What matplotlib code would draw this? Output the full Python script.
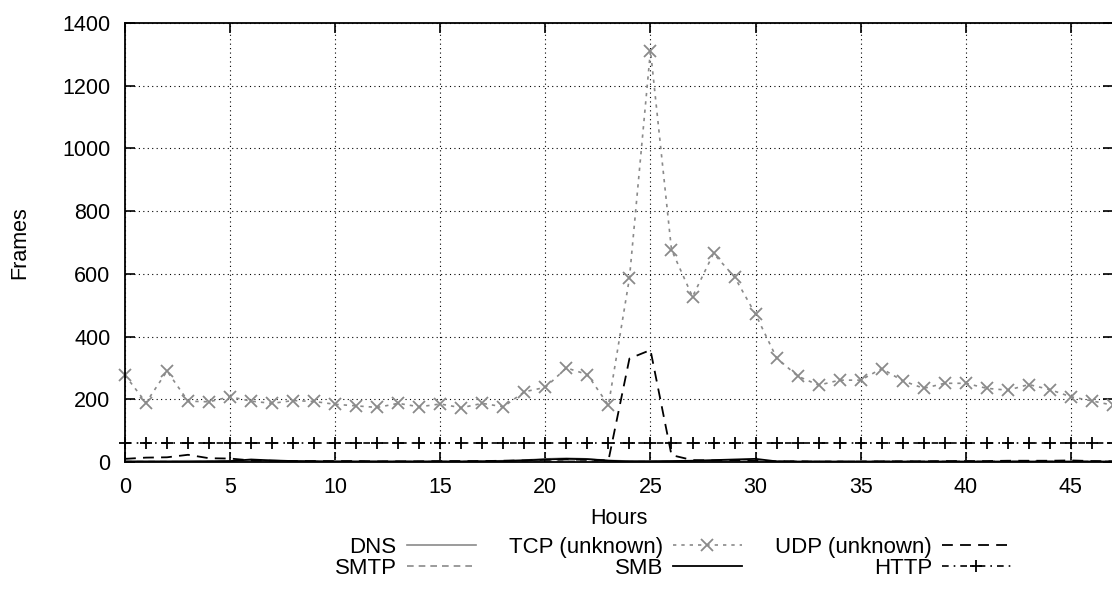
import numpy as np
import matplotlib
matplotlib.use("Agg")
import matplotlib.pyplot as plt

plt.rcParams['font.family'] = ['Liberation Sans', 'DejaVu Sans']

# hourly frame counts, hours 0..47
hours = list(range(48))

dns = [3, 3, 3, 4, 3, 3, 4, 4, 3, 3, 3, 3, 3, 3, 3, 3, 3, 3, 4, 6,
       10, 12, 10, 5, 3, 3, 3, 3, 3, 3, 3, 2, 2, 2, 2, 2, 2, 2, 2, 2,
       2, 2, 2, 2, 2, 2, 2, 2]
smtp = [2, 2, 2, 2, 2, 2, 2, 2, 2, 2, 2, 2, 2, 2, 2, 2, 2, 2, 2, 2,
        2, 2, 2, 2, 2, 2, 2, 2, 2, 2, 2, 2, 2, 2, 2, 2, 2, 2, 2, 2,
        2, 2, 2, 2, 2, 2, 2, 2]
tcp_unknown = [277, 189, 290, 194, 192, 208, 194, 187, 196, 193, 184, 179,
               174, 187, 176, 185, 173, 187, 176, 224, 238, 300, 279, 181,
               587, 1312, 677, 527, 665, 590, 471, 332, 274, 245, 261, 261,
               298, 259, 235, 251, 251, 235, 229, 247, 231, 208, 195, 181]
smb = [1, 1, 1, 1, 2, 3, 8, 5, 3, 2, 1, 1, 1, 1, 1, 1, 1, 2, 3, 5,
       8, 10, 9, 4, 2, 2, 3, 4, 6, 8, 10, 2, 1, 1, 1, 1, 1, 1, 1, 1,
       1, 1, 1, 1, 1, 1, 1, 1]
udp_unknown = [10, 14, 15, 23, 12, 11, 5, 4, 3, 3, 3, 3, 2, 2, 2, 3, 3, 3, 4, 5,
               7, 8, 7, 5, 330, 357, 22, 6, 5, 6, 4, 2, 2, 1, 1, 1, 2, 2, 2, 3,
               3, 3, 4, 4, 4, 5, 3, 2]
http = [60] * 48

gray = '#8a8a8a'
fs = 15.5

fig = plt.figure(figsize=(11.12, 5.90), dpi=100)
ax = fig.add_axes([125 / 1112, 1 - 462 / 590, 1 - 125 / 1112 + 0.0008, (462 - 23) / 590])

ax.plot(hours, dns, color=gray, lw=1.2, ls='-', label='DNS')
ax.plot(hours, smtp, color=gray, lw=1.2, ls=(0, (4, 3)), label='SMTP')
ax.plot(hours, tcp_unknown, color=gray, lw=1.2, ls=(0, (2, 3)), marker='x',
        ms=9, mew=1.3, clip_on=False, label='TCP (unknown)')
ax.plot(hours, smb, color='black', lw=1.3, ls='-', label='SMB')
ax.plot(hours, udp_unknown, color='black', lw=1.3, ls=(0, (6, 4)), label='UDP (unknown)')
ax.plot(hours, http, color='black', lw=1.2, ls=(0, (4, 3, 1, 3)), marker='+',
        ms=9, mew=1.3, clip_on=False, label='HTTP')

ax.set_xlim(0, 47)
ax.set_ylim(0, 1400)
ax.set_xticks(range(0, 46, 5))
ax.set_yticks(range(0, 1401, 200))
ax.grid(True, color='black', ls=(0, (1, 3)), lw=0.8)
ax.tick_params(direction='in', length=7.2, width=1.2, top=True, right=True,
               labelsize=fs, pad=10.5)
for s in ax.spines.values():
    s.set_linewidth(1.3)

ax.set_xlabel('Hours', fontsize=fs, va='center')
ax.xaxis.set_label_coords(0.5, (462 - 519) / 439)
ax.set_ylabel('Frames', fontsize=fs)
ax.yaxis.set_label_coords(-0.096, 0.5)

fig.legend(loc='center', bbox_to_anchor=(0.605, 0.055), ncol=3, frameon=False,
           markerfirst=False, fontsize=16, handlelength=3.1, handletextpad=0.45,
           columnspacing=1.5, labelspacing=0.0, borderpad=0)

fig.savefig('out.png', dpi=100)
